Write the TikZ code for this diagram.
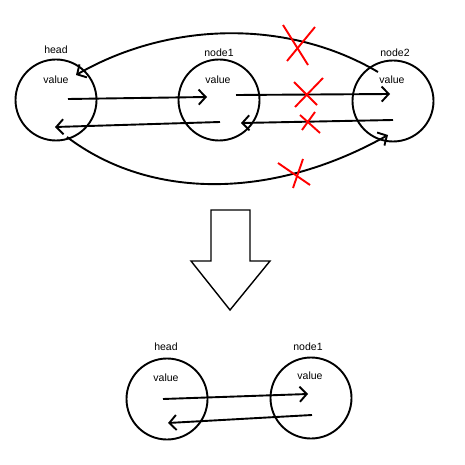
\documentclass[tikz,border=0pt]{standalone}
\usepackage{fontspec}
\setmainfont{Liberation Sans}
\usetikzlibrary{arrows.meta}
\begin{document}
\begin{tikzpicture}[x=1pt,y=-1pt]

        % Styles
        \tikzstyle{listnode}=[draw,circle,line width=1.9pt,minimum size=81pt,inner sep=0pt]
        \tikzstyle{name text}=[font=\fontsize{10.5}{12}\selectfont,inner sep=0pt]
        \tikzstyle{pointer}=[line width=1.9pt,-{Straight Barb[length=7pt,width=15pt,line width=1.9pt]}]
        \tikzstyle{cross}=[red,line width=1.9pt]
        \useasboundingbox (0,0) rectangle (464,465);
        %The graphic
        %before
        \node[listnode] (head) at (56,100) {};
        \node[listnode] (node1) at (219,100) {};
        \node[listnode] (node2) at (393,101) {};
        \node[name text] (head label) at (56,50) {head};
        \node[name text] (node1 label) at (219,53) {node1};
        \node[name text] (node2 label) at (395,53) {node2};
        \foreach \n/\x in {head/56,node1/218,node2/392}
            \node[name text] (\n value) at (\x,80) {value};
        \coordinate (head next) at (68,99);
        \coordinate (head prev) at (55,127);
        \coordinate (node1 in) at (207,97);
        \coordinate (node1 prev) at (220,122);
        \coordinate (node1 next) at (236,95);
        \coordinate (node1 back) at (241,123);
        \coordinate (node2 in) at (390,94);
        \coordinate (node2 prev) at (393,120);
        \coordinate (node2 top) at (378,72);
        \coordinate (head top) at (76,75);
        \coordinate (head bottom) at (67,137);
        \coordinate (node2 bottom) at (388,135);
        \draw[pointer] (head next) -- (node1 in);
        \draw[pointer] (node1 prev) -- (head prev);
        \draw[pointer] (node1 next) -- (node2 in);
        \draw[pointer] (node2 prev) -- (node1 back);
        \draw[pointer] (node2 top) .. controls (290,20) and (172,20) .. (head top);
        \draw[pointer] (head bottom) .. controls (150,200) and (272,200) .. (node2 bottom);
        % crosses
        \foreach \ax/\ay/\bx/\by/\cx/\cy/\dx/\dy in
            {283/25/308/65/315/27/287/61, 294/82/317/105/323/78/295/107,
             300/115/320/133/315/112/302/130, 278/163/310/185/303/159/293/188}
            {\draw[cross] (\ax,\ay) -- (\bx,\by);
             \draw[cross] (\cx,\cy) -- (\dx,\dy);}
        %big arrow
        \draw[line width=1.4pt,line join=miter] (211,210) -- (250,210) -- (250,261) -- (270,261)
            -- (230,310) -- (191,261) -- (211,261) -- cycle;
        %after
        \node[listnode] (new head) at (167,399) {};
        \node[listnode] (new node1) at (311,398) {};
        \node[name text] (new head label) at (166,347) {head};
        \node[name text] (new node1 label) at (308,347) {node1};
        \node[name text] (new head value) at (166,378) {value};
        \node[name text] (new node1 value) at (310,376) {value};
        \coordinate (new head next) at (163,399);
        \coordinate (new node1 in) at (308,394);
        \coordinate (new node1 prev) at (312,415);
        \coordinate (new head prev) at (168,423);
        \draw[pointer] (new head next) -- (new node1 in);
        \draw[pointer] (new node1 prev) -- (new head prev);
\end{tikzpicture}
\end{document}
